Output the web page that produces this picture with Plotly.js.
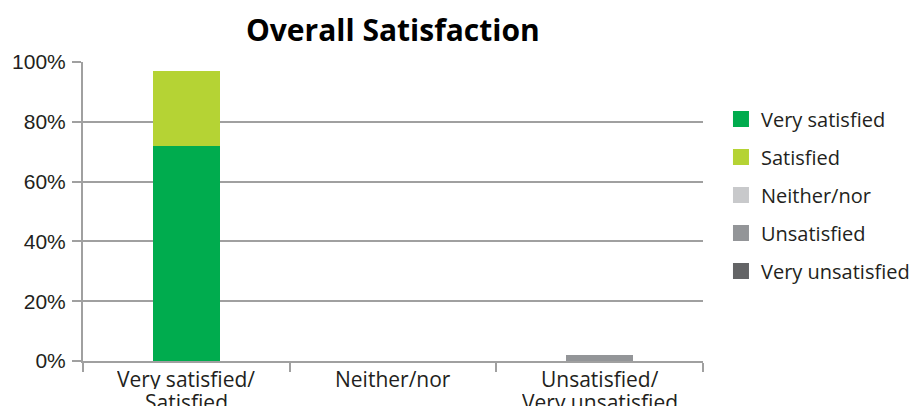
<!DOCTYPE html>
<html>
<head>
<meta charset="utf-8">
<script src="https://cdn.plot.ly/plotly-3.0.1.min.js"></script>
<style>html,body{margin:0;padding:0;background:#fff;}#chart{width:920px;height:406px;}</style>
</head>
<body>
<div id="chart"></div>
<script>
const categories = ["Very satisfied/<br>Satisfied", "Neither/nor", "Unsatisfied/<br>Very unsatisfied"];
const seriesNames = ["Very satisfied", "Satisfied", "Neither/nor", "Unsatisfied", "Very unsatisfied"];
const verySatisfied = [72, 0, 0];
const satisfied = [25, 0, 0];
const neither = [0, 0, 0];
const unsatisfied = [0, 0, 2];
const veryUnsatisfied = [0, 0, 0];
const colors = ["#00ac4e", "#b5d334", "#c8c9cb", "#939598", "#636466"];
const yTicks = [0, 20, 40, 60, 80, 100];
const yTickText = ["0%", "20%", "40%", "60%", "80%", "100%"];

const FONT = "'Open Sans', Lato, sans-serif";
const TXT = "#231f20";

const values = [verySatisfied, satisfied, neither, unsatisfied, veryUnsatisfied];
const traces = values.map((v, i) => ({
  type: "bar",
  name: seriesNames[i],
  x: categories,
  y: v,
  marker: {color: colors[i], line: {width: 0}},
  width: 0.325,
  showlegend: false,
  hoverinfo: "skip"
}));
// legend entries with larger square swatches
seriesNames.forEach((n, i) => traces.push({
  type: "scatter", mode: "markers", name: n,
  x: [null], y: [null],
  legendgroup: "g" + i,
  marker: {symbol: "square", size: 18, color: colors[i]},
  hoverinfo: "skip"
}));

// category labels, one annotation per line, to get a tight line spacing
const annotations = [];
categories.forEach((c) => {
  c.split("<br>").forEach((line, j) => {
    annotations.push({
      x: c, xref: "x", y: 0, yref: "paper",
      yanchor: "top", xanchor: "center",
      height: 21, valign: "middle",
      yshift: -5 - j * 23,
      text: line, showarrow: false,
      font: {size: 21, family: FONT, color: TXT}
    });
  });
});

const layout = {
  width: 920, height: 406,
  margin: {l: 83, r: 217, t: 62, b: 45, autoexpand: false},
  barmode: "stack",
  paper_bgcolor: "#fff", plot_bgcolor: "#fff",
  font: {family: FONT, color: TXT, size: 20},
  title: {text: "<b>Overall Satisfaction</b>", x: 0.427, xanchor: "center", y: 0.925, yanchor: "middle",
          font: {size: 30, family: FONT, color: "#000"}},
  xaxis: {
    type: "category",
    showline: true, linecolor: "#a0a0a0", linewidth: 2,
    ticks: "outside", tickson: "boundaries", ticklen: 9, tickcolor: "#a0a0a0", tickwidth: 2,
    showgrid: false, zeroline: false, showticklabels: false
  },
  yaxis: {
    range: [0, 100], tickmode: "array", tickvals: yTicks, ticktext: yTickText,
    showline: true, linecolor: "#a0a0a0", linewidth: 2,
    ticks: "outside", ticklen: 9, tickcolor: "#a0a0a0", tickwidth: 2,
    showgrid: true, gridcolor: "#a0a0a0", gridwidth: 2, zeroline: false,
    ticklabelstandoff: 2,
    tickfont: {size: 21, family: "'Liberation Sans', Arial, sans-serif", color: TXT}
  },
  annotations: annotations,
  showlegend: true,
  legend: {
    traceorder: "grouped", x: 1.029, xanchor: "left", y: 0.875, yanchor: "top",
    tracegroupgap: 9,
    font: {size: 20, family: FONT, color: TXT},
    itemwidth: 30, bgcolor: "rgba(0,0,0,0)"
  }
};

Plotly.newPlot("chart", traces, layout, {displayModeBar: false, staticPlot: true});
</script>
</body>
</html>
